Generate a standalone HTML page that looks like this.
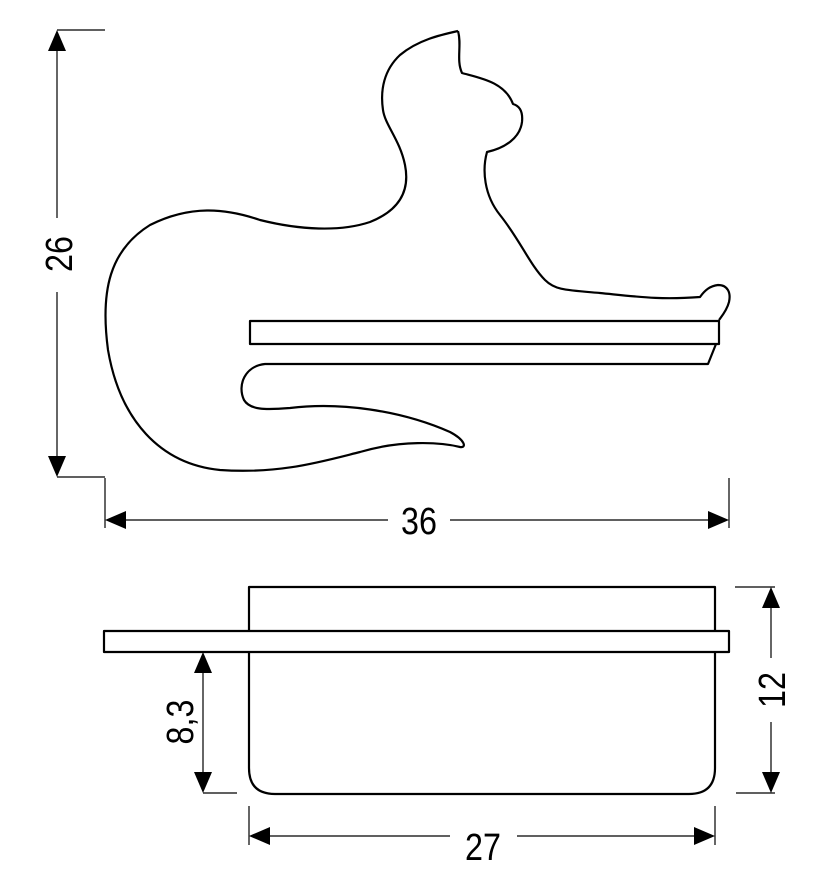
<!DOCTYPE html>
<html><head><style>
html,body{margin:0;padding:0;background:#fff;}
svg{display:block;}
text{font-family:"Liberation Sans",Arial,sans-serif;font-size:38px;fill:#000;}
</style></head><body>
<svg width="828" height="886" viewBox="0 0 828 886" xmlns="http://www.w3.org/2000/svg">
<g fill="none" stroke="#000" stroke-width="2.2" stroke-linejoin="round">
<path d="M458,31 C462,45 456,60 462,73 C480,78 505,82 513,104 C520,106 523,112 522,122 C520,138 505,148 487,152 C482,170 484,195 500,215 C520,240 530,265 545,280 C555,290 565,290 600,293 C640,297 660,300 700,297 C705,290 710,286 718,285 C728,285 731,293 729,302 C727,310 722,316 719,320"/>
<path d="M716,344 L708,364 L265,364 C245,366 237,385 244,400 C250,410 265,410 290,408 C340,402 400,410 450,432 C465,440 467,448 460,447 C440,442 400,440 360,452 C320,462 280,474 220,470 C160,464 120,420 108,350 C100,290 110,250 150,225 C190,205 225,208 260,220 C300,230 340,232 370,222 C400,210 410,190 405,165 C400,140 385,125 383,110 C380,90 384,70 400,55 C418,40 440,35 458,31"/>
<rect x="250" y="321" width="469" height="23"/>
<path d="M249,630 L249,587 L715,587 L715,630"/>
<path d="M249,652 L249,768 Q249,794 275,794 L689,794 Q715,794 715,768 L715,652"/>
<rect x="104" y="631" width="625" height="21"/>
</g>
<g stroke="#000" stroke-width="1.2" fill="none">
<line x1="57" y1="30" x2="105" y2="30"/><line x1="57" y1="477" x2="105" y2="477"/>
<line x1="57" y1="45" x2="57" y2="218"/><line x1="57" y1="292" x2="57" y2="462"/>
<line x1="105" y1="478" x2="105" y2="528"/><line x1="729" y1="478" x2="729" y2="528"/>
<line x1="120" y1="520" x2="388" y2="520"/><line x1="450" y1="520" x2="714" y2="520"/>
<line x1="735" y1="587" x2="775" y2="587"/><line x1="736" y1="793" x2="775" y2="793"/>
<line x1="771" y1="600" x2="771" y2="658"/><line x1="771" y1="722" x2="771" y2="780"/>
<line x1="203" y1="665" x2="203" y2="780"/><line x1="203" y1="793" x2="237" y2="793"/>
<line x1="249" y1="806" x2="249" y2="845"/><line x1="715" y1="806" x2="715" y2="845"/>
<line x1="262" y1="836" x2="450" y2="836"/><line x1="517" y1="836" x2="702" y2="836"/>
</g>
<g fill="#000">
<polygon points="57,30 48,51 66,51"/><polygon points="57,477 48,456 66,456"/>
<polygon points="105,520 126,511 126,529"/><polygon points="729,520 708,511 708,529"/>
<polygon points="771,587 762,608 780,608"/><polygon points="771,793 762,772 780,772"/>
<polygon points="203,652 194,673 212,673"/><polygon points="203,793 194,772 212,772"/>
<polygon points="249,836 270,827 270,845"/><polygon points="715,836 694,827 694,845"/>
</g>
<text transform="translate(419,534) scale(0.85,1)" text-anchor="middle">36</text>
<text transform="translate(483,860) scale(0.85,1)" text-anchor="middle">27</text>
<text transform="translate(72,254) rotate(-90) scale(0.85,1)" text-anchor="middle">26</text>
<text transform="translate(785,690) rotate(-90) scale(0.85,1)" text-anchor="middle">12</text>
<text transform="translate(193,722) rotate(-90) scale(0.85,1)" text-anchor="middle">8,3</text>
</svg>
</body></html>
